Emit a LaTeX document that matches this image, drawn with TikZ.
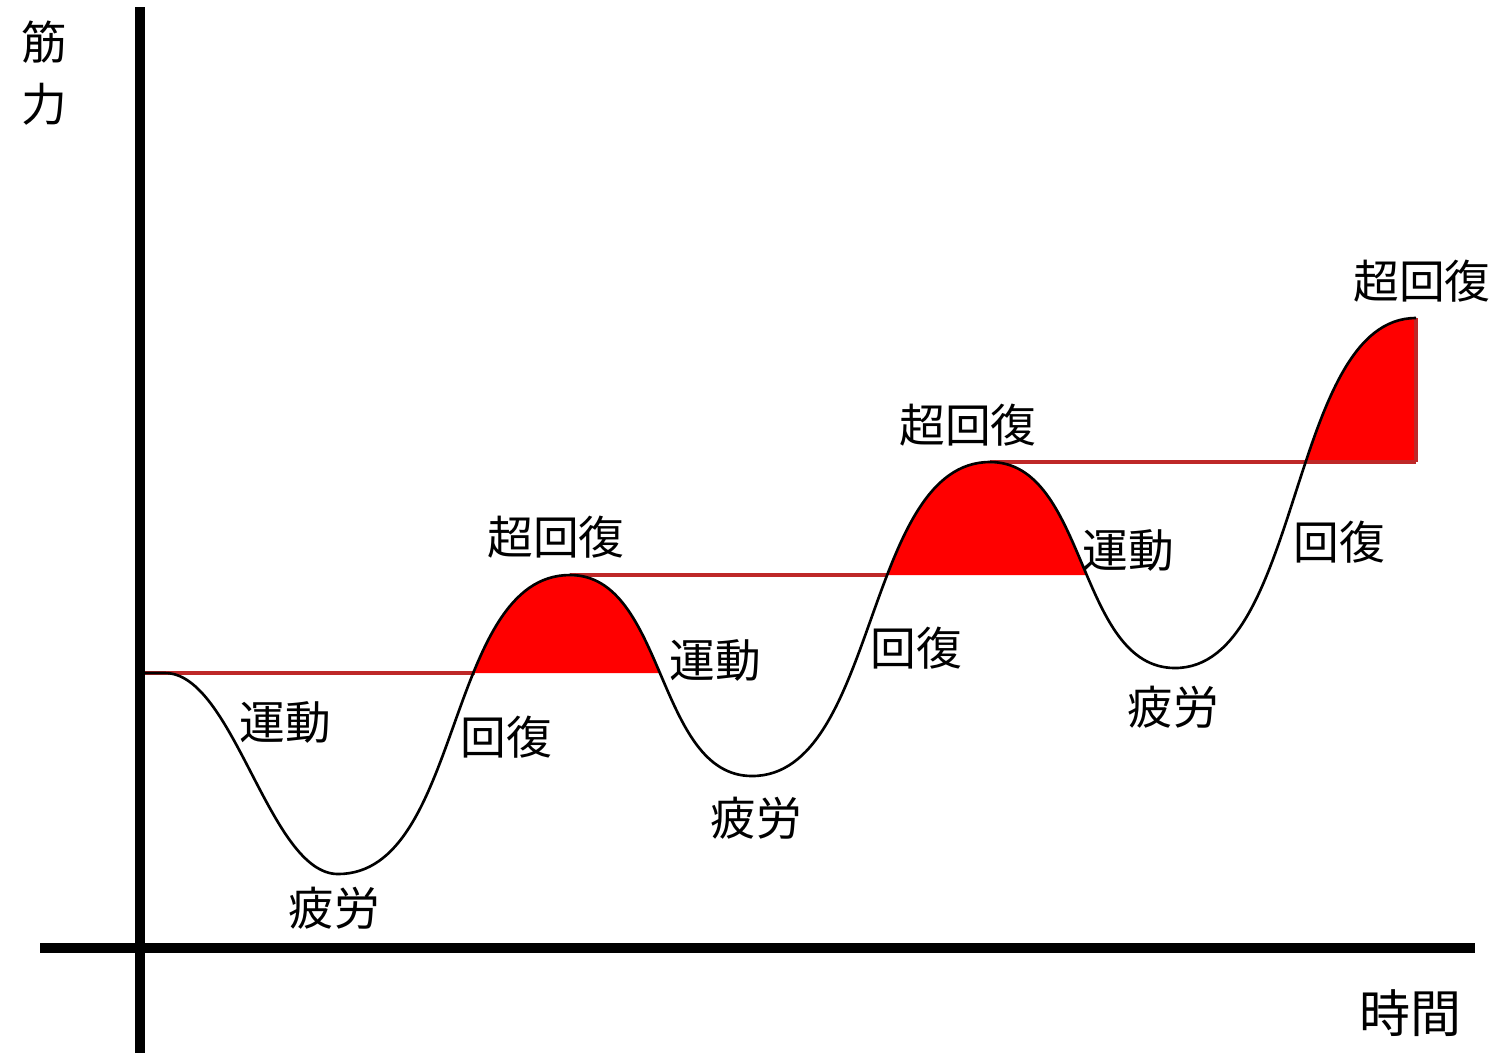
\documentclass[tikz,border=0pt]{standalone}
\usepackage{fontspec}
\newfontfamily\jp{Noto Sans CJK JP}
\definecolor{levelred}{RGB}{190,40,40}
\definecolor{superfill}{RGB}{255,0,0}
\begin{document}
\begin{tikzpicture}[x=0.01cm,y=-0.01cm,
  lbl/.style={font=\jp\fontsize{13pt}{15pt}\selectfont, inner sep=0pt},
  biglbl/.style={font=\jp\fontsize{14.5pt}{16pt}\selectfont, inner sep=0pt},
  axis/.style={line width=2.9pt},
  curve/.style={line width=0.75pt, line join=round},
  level/.style={draw=levelred, line width=0.9pt}]
\useasboundingbox[fill=white] (0,0) rectangle (1494,1053);

% key points of the strength curve
\coordinate (c0) at (143,673);
\coordinate (c1) at (165,673);
\coordinate (m1) at (338,874);
\coordinate (p1) at (570,575);
\coordinate (m2) at (752,776);
\coordinate (p2) at (990,462);
\coordinate (m3) at (1175,668);
\coordinate (p3) at (1416,318);

% red super-recovery fills (area between curve and previous level)
\begin{scope}
  \clip (440,0) rectangle (700,673) (850,0) rectangle (1120,575) (1250,0) rectangle (1416,462);
  \fill[superfill] (c0) -- (c1)
    .. controls (234,673) and (269,874) .. (m1)
    .. controls (463,874) and (445,575) .. (p1)
    .. controls (666,575) and (656,776) .. (m2)
    .. controls (878,776) and (864,462) .. (p2)
    .. controls (1088,462) and (1077,668) .. (m3)
    .. controls (1303,668) and (1288,318) .. (p3)
    -- (1416,1053) -- (143,1053) -- cycle;
\end{scope}

% reference levels
\coordinate (l1b) at (475,673);
\coordinate (l2b) at (888,575);
\coordinate (l3b) at (1416,462);
\draw[level] (c0) -- (l1b);
\draw[level] (p1) -- (l2b);
\draw[level] (p2) -- (l3b);
\draw[level] (p3) -- (l3b);

% curve
\draw[curve] (c0) -- (c1)
    .. controls (234,673) and (269,874) .. (m1)
    .. controls (463,874) and (445,575) .. (p1)
    .. controls (666,575) and (656,776) .. (m2)
    .. controls (878,776) and (864,462) .. (p2)
    .. controls (1088,462) and (1077,668) .. (m3)
    .. controls (1303,668) and (1288,318) .. (p3);

% axes
\coordinate (ytop) at (140,7);
\coordinate (ybot) at (140,1053);
\coordinate (xl) at (40,948);
\coordinate (xr) at (1475,948);
\draw[axis] (ytop) -- (ybot);
\draw[axis] (xl) -- (xr);

% labels
\node[lbl] (kin) at (44,42) {筋};
\node[lbl] (ryoku) at (44,104) {力};
\node[biglbl] (jikan) at (1410,1013) {時間};

\node[lbl] (undo1) at (285,722) {運動};
\node[lbl] (hiro1) at (334,908) {疲労};
\node[lbl] (kaifuku1) at (506,737) {回復};
\node[lbl] (chou1) at (556,537) {超回復};

\node[lbl] (undo2) at (715,660) {運動};
\node[lbl] (hiro2) at (756,818) {疲労};
\node[lbl] (kaifuku2) at (916,648) {回復};
\node[lbl] (chou2) at (968,425) {超回復};

\node[lbl] (undo3) at (1128,550) {運動};
\node[lbl] (hiro3) at (1173,707) {疲労};
\node[lbl] (kaifuku3) at (1339,542) {回復};
\node[lbl] (chou3) at (1422,281) {超回復};
\end{tikzpicture}
\end{document}
